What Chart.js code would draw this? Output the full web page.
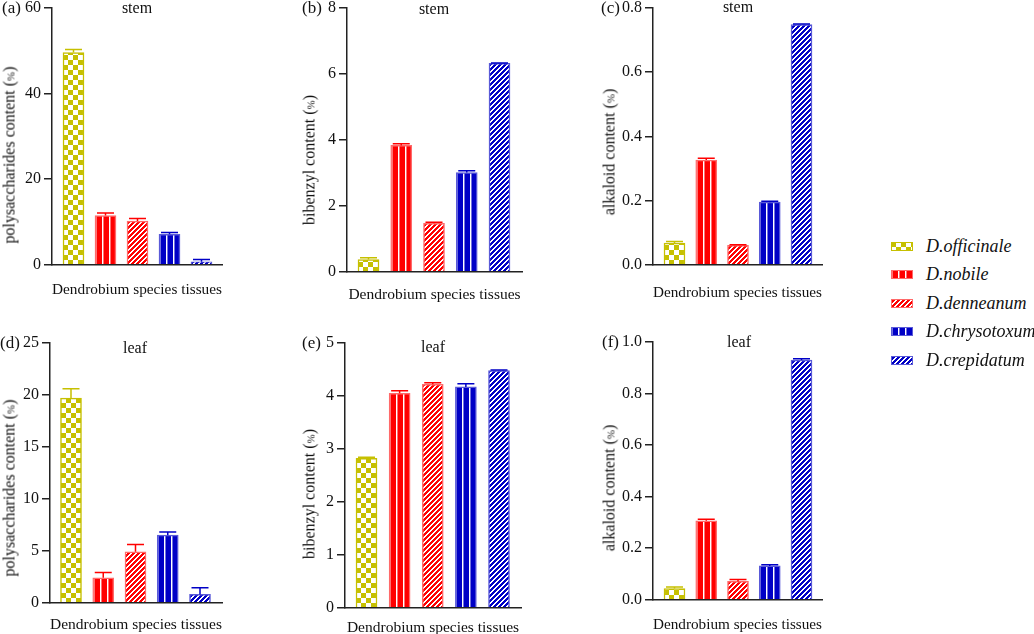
<!DOCTYPE html>
<html><head><meta charset="utf-8">
<script src="https://cdn.jsdelivr.net/npm/chart.js@4/dist/chart.umd.min.js"></script>
<style>
html,body{margin:0;padding:0;background:#fff;width:1034px;height:634px;overflow:hidden;position:relative;font-family:"Liberation Serif",serif;color:#111}
canvas{position:absolute}
.lbl{position:absolute;font-size:17px;line-height:20px;transform:translateY(-50%);white-space:nowrap}
.sub{position:absolute;font-size:16px;line-height:18px;transform:translate(-50%,-50%);white-space:nowrap}
.ytitle{position:absolute;font-size:16px;line-height:18px;white-space:nowrap;transform:translate(-50%,-50%) rotate(-90deg)}
.ytitle .pc{font-size:11px}
.leg{position:absolute;white-space:nowrap;font-style:italic;font-size:18px;line-height:22px;transform:translateY(-50%)}
</style></head><body>
<script>
// ---------- data ----------
const species = ['D.officinale','D.nobile','D.denneanum','D.chrysotoxum','D.crepidatum'];
const xAxisTitle = 'Dendrobium species tissues';
const panelLetters = ['(a)','(b)','(c)','(d)','(e)','(f)'];
const tissueTitles = ['stem','stem','stem','leaf','leaf','leaf'];
const yAxisTitles = ['polysaccharides content (%)','bibenzyl content (%)','alkaloid content (%)',
                     'polysaccharides content (%)','bibenzyl content (%)','alkaloid content (%)'];

const stemPolysaccharides    = [49.6, 11.5, 10.2, 7.1, 0.7];
const stemPolysaccharidesErr = [0.7, 0.6, 0.6, 0.4, 0.5];
const stemBibenzyl           = [0.37, 3.83, 1.47, 3.01, 6.32];
const stemBibenzylErr        = [0.05, 0.05, 0.03, 0.05, 0.01];
const stemAlkaloid           = [0.067, 0.326, 0.060, 0.195, 0.748];
const stemAlkaloidErr        = [0.005, 0.006, 0.002, 0.003, 0.002];
const leafPolysaccharides    = [19.7, 2.4, 4.9, 6.5, 0.8];
const leafPolysaccharidesErr = [0.9, 0.5, 0.7, 0.3, 0.65];
const leafBibenzyl           = [2.82, 4.05, 4.22, 4.17, 4.48];
const leafBibenzylErr        = [0.02, 0.05, 0.03, 0.06, 0.01];
const leafAlkaloid           = [0.043, 0.306, 0.071, 0.131, 0.930];
const leafAlkaloidErr        = [0.006, 0.006, 0.007, 0.005, 0.005];

const stemPolysaccharidesTicks = [0, 20, 40, 60];
const stemBibenzylTicks        = [0, 2, 4, 6, 8];
const stemAlkaloidTicks        = [0, 0.2, 0.4, 0.6, 0.8];
const leafPolysaccharidesTicks = [0, 5, 10, 15, 20, 25];
const leafBibenzylTicks        = [0, 1, 2, 3, 4, 5];
const leafAlkaloidTicks        = [0, 0.2, 0.4, 0.6, 0.8, 1.0];

// ---------- styles ----------
const OLIVE = '#c6c000', RED = '#ff0000', BLUE = '#0000c6';
const barStyles = [
  {main: OLIVE, border: OLIVE,     kind: 'checker'},
  {main: RED,   border: '#ff6a6a', kind: 'vstripe'},
  {main: RED,   border: '#ff6a6a', kind: 'diag'},
  {main: BLUE,  border: '#5a5ad8', kind: 'vstripe'},
  {main: BLUE,  border: '#5a5ad8', kind: 'diag'}
];
const BAR_W = 21;
const FONT = 'Liberation Serif';

function makeTile(kind, main) {
  const c = document.createElement('canvas');
  const g = c.getContext('2d');
  if (kind === 'checker') {
    c.width = 10; c.height = 10;
    g.fillStyle = '#fff'; g.fillRect(0, 0, 10, 10);
    g.fillStyle = main; g.fillRect(0, 0, 5, 5); g.fillRect(5, 5, 5, 5);
  } else if (kind === 'vstripe') {
    c.width = 7; c.height = 2;
    g.fillStyle = main; g.fillRect(0, 0, 7, 2);
    g.fillStyle = '#fff'; g.fillRect(0, 0, 1, 2);
    g.fillStyle = 'rgba(255,255,255,0.45)'; g.fillRect(1, 0, 1, 2);
  } else {
    const n = 5; c.width = n; c.height = n;
    g.fillStyle = main; g.fillRect(0, 0, n, n);
    g.fillStyle = '#fff';
    for (let y = 0; y < n; y++) for (let x = 0; x < n; x++) {
      if ((x + y) % n < 2) g.fillRect(x, y, 1, 1);
    }
  }
  return c;
}
const tiles = barStyles.map(s => makeTile(s.kind, s.main));

// ---------- layout (absolute pixel geometry of each panel's axes) ----------
const panels = [
  {values: stemPolysaccharides, errors: stemPolysaccharidesErr, ticks: stemPolysaccharidesTicks, dec: 0,
   L: 52, T: 8, B: 262, R: 222, c0: 73.5, c4: 201.5, titleY: 287,
   lab: [2, 8], sub: [137, 8], yt: [10, 155]},
  {values: stemBibenzyl, errors: stemBibenzylErr, ticks: stemBibenzylTicks, dec: 0,
   L: 347, T: 8, B: 269, R: 522, c0: 368.5, c4: 499.5, titleY: 292,
   lab: [302, 8], sub: [434, 9], yt: [310, 160]},
  {values: stemAlkaloid, errors: stemAlkaloidErr, ticks: stemAlkaloidTicks, dec: 1,
   L: 653, T: 8, B: 262, R: 822, c0: 674.5, c4: 801.5, titleY: 290,
   lab: [601, 8], sub: [738, 7], yt: [610, 152]},
  {values: leafPolysaccharides, errors: leafPolysaccharidesErr, ticks: leafPolysaccharidesTicks, dec: 0,
   L: 50, T: 343, B: 600, R: 222, c0: 71, c4: 200, titleY: 622,
   lab: [0, 343], sub: [135, 348], yt: [10, 488]},
  {values: leafBibenzyl, errors: leafBibenzylErr, ticks: leafBibenzylTicks, dec: 0,
   L: 345, T: 343, B: 605, R: 521, c0: 366.5, c4: 499, titleY: 625,
   lab: [302, 343], sub: [433, 347], yt: [310, 494]},
  {values: leafAlkaloid, errors: leafAlkaloidErr, ticks: leafAlkaloidTicks, dec: 1,
   L: 653, T: 342, B: 597, R: 822, c0: 674.5, c4: 801.5, titleY: 622,
   lab: [602, 342], sub: [739, 342], yt: [610, 488]}
];

const errorBarPlugin = {
  id: 'errorBars',
  afterDatasetsDraw(chart) {
    const errs = chart.options.plugins.errorBars.errors;
    const ys = chart.scales.y;
    const meta = chart.getDatasetMeta(0);
    const ctx = chart.ctx;
    ctx.save();
    ctx.lineWidth = 1.5;
    meta.data.forEach((el, i) => {
      const v = chart.data.datasets[0].data[i].y;
      const top = ys.getPixelForValue(v + errs[i]);
      const cap = BAR_W - 4;
      ctx.strokeStyle = barStyles[i].main;
      ctx.beginPath();
      ctx.moveTo(el.x, el.y);
      ctx.lineTo(el.x, top);
      ctx.moveTo(el.x - cap / 2, top);
      ctx.lineTo(el.x + cap / 2, top);
      ctx.stroke();
    });
    ctx.restore();
  }
};

const PAD_L = 60, PAD_T = 20, PAD_R = 10, LH = 15.5 * 1.2;

panels.forEach((p, k) => {
  const sp = (p.c4 - p.c0) / 4;
  const xMin = -(p.c0 - p.L) / sp;
  const xMax = 4 + (p.R - p.c4) / sp;
  const xH = p.titleY - p.B + LH / 2;
  const cv = document.createElement('canvas');
  const W = p.R - p.L + PAD_L + PAD_R;
  const H = p.B - p.T + PAD_T + Math.ceil(xH) + 2;
  cv.width = W; cv.height = H;
  cv.style.left = (p.L - PAD_L) + 'px';
  cv.style.top = (p.T - PAD_T) + 'px';
  cv.style.width = W + 'px'; cv.style.height = H + 'px';
  document.body.appendChild(cv);

  const tickArr = p.ticks;
  new Chart(cv, {
    type: 'bar',
    data: {
      datasets: [{
        data: p.values.map((v, i) => ({x: i, y: v})),
        barThickness: BAR_W,
        borderWidth: 1.5,
        borderSkipped: 'bottom',
        borderColor: ctx => barStyles[ctx.dataIndex % 5].border,
        backgroundColor: ctx => {
          if (ctx.type !== 'data') return barStyles[0].main;
          const i = ctx.dataIndex;
          const chart = ctx.chart;
          const pat = chart.ctx.createPattern(tiles[i], 'repeat');
          const xs = chart.scales.x, ys = chart.scales.y;
          if (xs && ys) {
            const left = Math.round(xs.getPixelForValue(i) - BAR_W / 2);
            const bottom = Math.round(ys.getPixelForValue(0));
            pat.setTransform(new DOMMatrix().translate(left, bottom));
          }
          return pat;
        }
      }]
    },
    options: {
      responsive: false,
      animation: false,
      devicePixelRatio: 1,
      events: [],
      layout: {padding: {left: 0, top: PAD_T, right: PAD_R, bottom: 0}},
      plugins: {legend: {display: false}, tooltip: {enabled: false}, errorBars: {errors: p.errors}},
      scales: {
        x: {
          type: 'linear', min: xMin, max: xMax, offset: false,
          ticks: {display: false},
          grid: {display: false},
          border: {display: true, color: '#222', width: 1.5},
          title: {display: true, text: xAxisTitle, color: '#111', padding: 0,
                  font: {family: FONT, size: 15.5}},
          afterFit: s => { s.height = xH; }
        },
        y: {
          min: tickArr[0], max: tickArr[tickArr.length - 1],
          afterBuildTicks: s => { s.ticks = tickArr.map(v => ({value: v})); },
          ticks: {color: '#111', padding: 3, font: {family: FONT, size: 16},
                  callback: v => Number(v).toFixed(p.dec)},
          grid: {display: true, drawOnChartArea: false, drawTicks: true, tickLength: 8,
                 color: '#222', lineWidth: 1.5},
          border: {display: true, color: '#222', width: 1.5},
          afterFit: s => { s.width = PAD_L; }
        }
      }
    },
    plugins: [errorBarPlugin]
  });

  const lab = document.createElement('div');
  lab.className = 'lbl'; lab.textContent = panelLetters[k];
  lab.style.left = p.lab[0] + 'px'; lab.style.top = p.lab[1] + 'px';
  document.body.appendChild(lab);

  const sub = document.createElement('div');
  sub.className = 'sub'; sub.textContent = tissueTitles[k];
  sub.style.left = p.sub[0] + 'px'; sub.style.top = p.sub[1] + 'px';
  document.body.appendChild(sub);

  const yt = document.createElement('div');
  yt.className = 'ytitle';
  const t = yAxisTitles[k];
  const idx = t.indexOf('(%)');
  yt.appendChild(document.createTextNode(t.slice(0, idx) + '('));
  const pc = document.createElement('span'); pc.className = 'pc'; pc.textContent = '%';
  yt.appendChild(pc);
  yt.appendChild(document.createTextNode(')'));
  yt.style.left = p.yt[0] + 'px'; yt.style.top = p.yt[1] + 'px';
  document.body.appendChild(yt);
});

// ---------- legend ----------
const legendRowsY = [246, 274, 303, 331, 360];
species.forEach((name, i) => {
  const s = barStyles[i];
  const sw = document.createElement('canvas');
  sw.width = 22; sw.height = 9;
  sw.style.left = '891px'; sw.style.top = (legendRowsY[i] - 4.5) + 'px';
  const g = sw.getContext('2d');
  g.fillStyle = s.border; g.fillRect(0, 0, 22, 9);
  const pat = g.createPattern(tiles[i], 'repeat');
  g.fillStyle = pat; g.fillRect(1, 1, 20, 7);
  document.body.appendChild(sw);
  const d = document.createElement('div');
  d.className = 'leg'; d.textContent = name;
  d.style.left = '926px'; d.style.top = legendRowsY[i] + 'px';
  document.body.appendChild(d);
});
</script>
</body></html>
